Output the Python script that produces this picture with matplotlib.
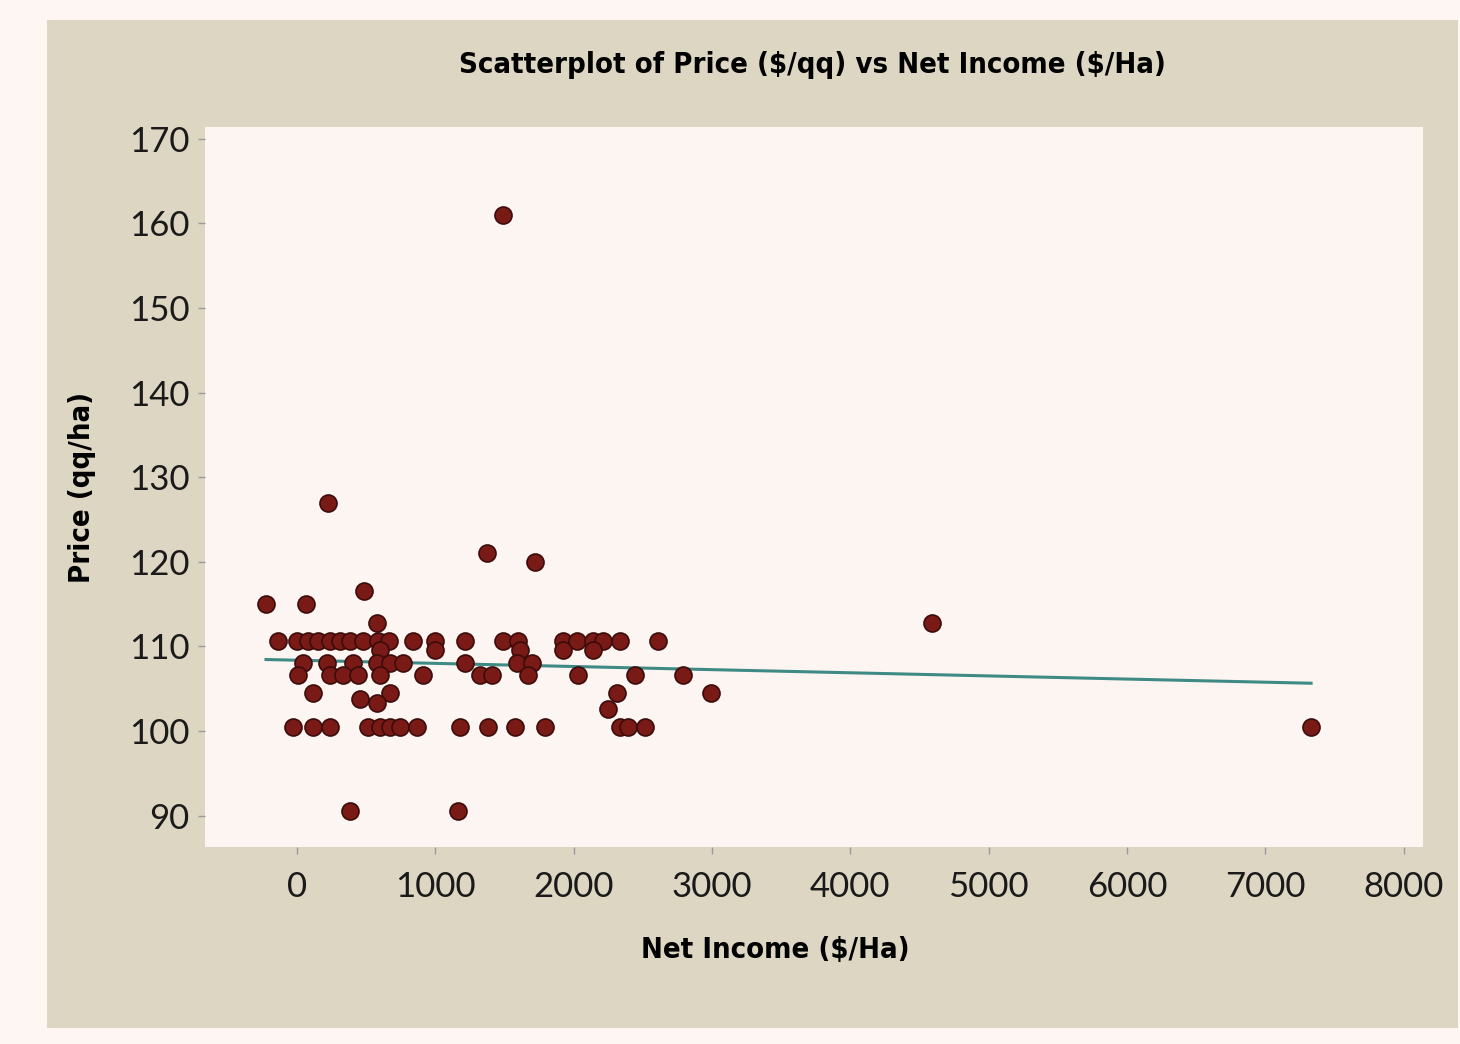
import numpy as np
import matplotlib.pyplot as plt

# Net income ($/Ha) and price
net_income = [
    -224, 65, 484, 578, 224, 1374, 1721, 1489, 4591, 383, 1164,
    # ~100.5 row
    -29, 116, 239, 513, 600, 672, 745, 868, 1178, 1381, 1576, 1793, 2335, 2393, 2516, 7331,
    # ~110.7 row
    -137, 0, 80, 152, 239, 311, 383, 477, 586, 665, 839, 998, 1215, 1489, 1598,
    1923, 2024, 2140, 2212, 2335, 2610,
    # ~109.6 row
    600, 998, 1612, 1923, 2140,
    # ~108.1 row
    43, 217, 405, 578, 672, 766, 1215, 1591, 1699,
    # ~106.6 row
    7, 239, 333, 441, 600, 911, 1323, 1410, 1670, 2032, 2444, 2791,
    # lower ones
    116, 672, 2314, 2990, 455, 578, 2249,
]
price = (
    [115, 115, 116.6, 112.8, 127, 121, 120, 161, 112.8, 90.5, 90.5]
    + [100.5] * 16
    + [110.7] * 21
    + [109.6] * 5
    + [108.1] * 9
    + [106.6] * 12
    + [104.5, 104.5, 104.5, 104.5, 103.8, 103.3, 102.6]
)

x_ticks = [0, 1000, 2000, 3000, 4000, 5000, 6000, 7000, 8000]
y_ticks = [90, 100, 110, 120, 130, 140, 150, 160, 170]

x = np.array(net_income, dtype=float)
y = np.array(price, dtype=float)
slope, icpt = np.polyfit(x, y, 1)
fit_x = np.array([x.min(), x.max()])

bold_font = dict(family="DejaVu Sans", fontstretch="condensed", fontweight="bold")
tick_font = ["Lato", "DejaVu Sans"]

fig = plt.figure(figsize=(14.6, 10.44), dpi=100, facecolor="#fdf6f3")
# beige panel behind the chart
bg = fig.add_axes([47 / 1460, 1 - 1028 / 1044, (1458 - 47) / 1460, (1028 - 20) / 1044], zorder=-1)
bg.set_facecolor("#ddd6c2")
bg.set_xticks([])
bg.set_yticks([])
for s in bg.spines.values():
    s.set_visible(False)

ax = fig.add_axes([205 / 1460, 1 - 847 / 1044, (1423 - 205) / 1460, (847 - 127) / 1044], zorder=1)
ax.set_facecolor("#fdf5f2")
for s in ax.spines.values():
    s.set_visible(False)

ax.plot(fit_x, icpt + slope * fit_x, color="#3f8a85", lw=2.2, zorder=2)
ax.scatter(x, y, s=150, color="#7a1a17", edgecolor="#3a0c0a", linewidth=1.2, zorder=3)

ax.set_xlim(-665, 8140)
ax.set_ylim(86.3, 171.4)
ax.set_xticks(x_ticks)
ax.set_yticks(y_ticks)
ax.tick_params(axis="both", length=5, width=1, color="#9a9a9a", labelsize=25)
ax.tick_params(axis="x", pad=12)
ax.tick_params(axis="y", pad=6)
for lab in ax.get_xticklabels() + ax.get_yticklabels():
    lab.set_family(tick_font)
    lab.set_color("#1a1a1a")

ax.set_xlabel("Net Income (\\$/Ha)", fontsize=21, **bold_font)
ax.xaxis.set_label_coords(0.468, -0.124)
ax.set_ylabel("Price (qq/ha)", fontsize=21, labelpad=24, **bold_font)
fig.text(812 / 1460, 1 - 65 / 1044, "Scatterplot of Price (\\$/qq) vs Net Income (\\$/Ha)",
         fontsize=21, ha="center", va="center", **bold_font)

fig.savefig("out.png", dpi=100, facecolor=fig.get_facecolor())
